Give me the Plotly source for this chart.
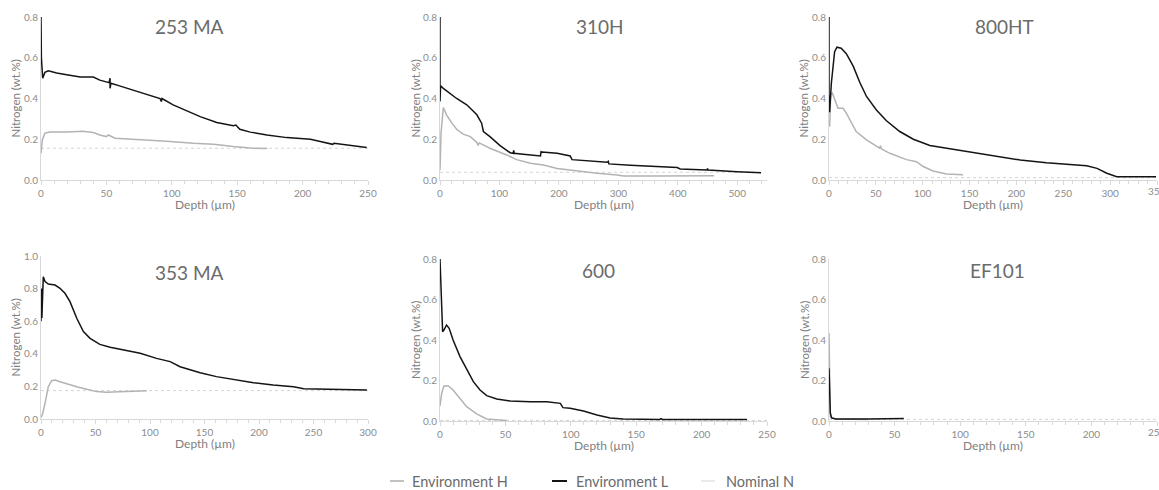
import plotly.graph_objects as go

# ---------------- data ----------------
titles = ["253 MA", "310H", "800HT", "353 MA", "600", "EF101"]

# 253 MA
ma253_L_x = [0, 0.3, 1.3, 3, 5.6, 12, 19.6, 30, 40, 45, 52, 52.8, 52.8, 53.5, 60, 70.7, 85, 91, 92, 92.5, 101, 110,
             121.7, 134.4, 147, 149, 152, 160, 172.7, 188, 206, 213.5, 223, 224, 239, 249]
ma253_L_y = [0.8, 0.6, 0.5, 0.528, 0.536, 0.525, 0.516, 0.505, 0.505, 0.49, 0.478, 0.50, 0.45, 0.475, 0.462, 0.44,
             0.41, 0.40, 0.385, 0.40, 0.369, 0.345, 0.311, 0.282, 0.266, 0.27, 0.249, 0.235, 0.221, 0.208, 0.2,
             0.189, 0.175, 0.18, 0.167, 0.16]
ma253_H_x = [0, 0.5, 1, 3, 7, 19.6, 32, 40, 45, 50, 51.5, 56.6, 70.7, 96, 116.6, 132, 147, 160, 173]
ma253_H_y = [0.131, 0.16, 0.197, 0.23, 0.236, 0.236, 0.239, 0.233, 0.221, 0.213, 0.221, 0.205, 0.2, 0.19, 0.18,
             0.175, 0.164, 0.157, 0.154]
ma253_nom = 0.156

# 310H
h310_L_x = [0, 0, 1, 5.6, 28, 45, 62, 70, 73, 84, 101, 118, 123, 124, 125, 140, 169, 170, 171, 197, 219, 222, 253,
            281, 283, 284, 320, 365, 399, 404, 449, 450, 451, 500, 540]
h310_L_y = [0.8, 0.385, 0.462, 0.45, 0.40, 0.369, 0.32, 0.279, 0.238, 0.213, 0.169, 0.134, 0.131, 0.145, 0.131,
            0.126, 0.118, 0.139, 0.137, 0.131, 0.118, 0.10, 0.093, 0.087, 0.092, 0.079, 0.072, 0.066, 0.061, 0.054,
            0.049, 0.056, 0.049, 0.041, 0.036]
h310_H_x = [0, 1.7, 5.6, 11, 20, 28, 39, 51, 62, 64, 66, 84, 112, 129, 152, 174, 197, 230, 264, 298, 309, 365, 461]
h310_H_y = [0.049, 0.23, 0.356, 0.32, 0.279, 0.249, 0.225, 0.213, 0.184, 0.17, 0.182, 0.156, 0.123, 0.10, 0.082,
            0.074, 0.057, 0.044, 0.033, 0.025, 0.02, 0.02, 0.021]
h310_nom = 0.038

# 800HT
ht800_L_x = [0, 0, 0.7, 2.5, 5, 6, 8.5, 13, 18.5, 25.7, 32.8, 40, 50.6, 61, 75.5, 90, 107.6, 125.4, 154, 179, 204,
             232, 253.7, 275, 286, 296.5, 307, 325, 349]
ht800_L_y = [0.8, 0.336, 0.336, 0.475, 0.59, 0.63, 0.652, 0.647, 0.62, 0.56, 0.48, 0.41, 0.344, 0.292, 0.238,
             0.2, 0.169, 0.156, 0.134, 0.115, 0.098, 0.085, 0.077, 0.07, 0.057, 0.033, 0.016, 0.015, 0.016]
ht800_H_x = [0.7, 1.8, 3.6, 7.8, 9.6, 15, 18.5, 29, 40, 54, 55, 56, 65, 82.7, 93.4, 100.5, 111, 125.4, 143]
ht800_H_y = [0.262, 0.418, 0.426, 0.377, 0.352, 0.352, 0.328, 0.238, 0.197, 0.156, 0.168, 0.152, 0.131, 0.10,
             0.09, 0.066, 0.044, 0.03, 0.026]
ht800_nom = 0.0115

# 353 MA
ma353_L_x = [0, 0.4, 0.8, 2.1, 3.7, 6.7, 12.9, 17.4, 22, 26.6, 32.8, 38.9, 45, 54, 63.4, 75.6, 91, 106, 118.5,
             127.6, 146, 161, 176.6, 195, 213, 231.7, 241, 256, 277.6, 299]
ma353_L_y = [0.60, 0.80, 0.62, 0.873, 0.843, 0.828, 0.822, 0.802, 0.771, 0.72, 0.618, 0.536, 0.495, 0.458, 0.44,
             0.423, 0.403, 0.372, 0.352, 0.321, 0.284, 0.26, 0.241, 0.223, 0.209, 0.198, 0.186, 0.184, 0.182, 0.178]
ma353_H_x = [0, 1.2, 3.7, 6.7, 9.8, 12.9, 17.4, 23.6, 32.8, 42, 51, 60, 78.7, 97]
ma353_H_y = [0.01, 0.025, 0.096, 0.198, 0.235, 0.239, 0.229, 0.215, 0.198, 0.182, 0.168, 0.164, 0.168, 0.174]
ma353_nom = 0.174

# 600
a600_L_x = [0, 0.8, 2, 3, 5, 7, 10, 15.3, 20.4, 25.5, 30.6, 35.7, 43.4, 53.6, 69, 81.6, 92, 93.5, 94, 99.5, 109.7,
            120, 130, 140, 166, 168, 169, 170, 234.7]
a600_L_y = [0.8, 0.614, 0.441, 0.449, 0.474, 0.458, 0.4, 0.318, 0.255, 0.194, 0.153, 0.125, 0.109, 0.099, 0.095,
            0.095, 0.087, 0.075, 0.066, 0.063, 0.049, 0.03, 0.015, 0.01, 0.008, 0.008, 0.012, 0.008, 0.008]
a600_H_x = [0, 1.3, 3, 6.4, 10, 15.3, 20.4, 28, 35.7, 51]
a600_H_y = [0.074, 0.137, 0.173, 0.173, 0.153, 0.112, 0.071, 0.035, 0.01, 0.003]
a600_nom = 0.003

# EF101
ef101_L_x = [0, 0.5, 1, 2, 5, 30, 57]
ef101_L_y = [0.26, 0.1, 0.04, 0.015, 0.01, 0.01, 0.012]
ef101_H_x = [0, 0.4, 1, 5, 30]
ef101_H_y = [0.435, 0.08, 0.02, 0.01, 0.008]
ef101_nom = 0.008

x_max = [250, 550, 350, 300, 250, 250]
nom_end = [250, 540, 350, 300, 250, 250]
x_ticks = [list(range(0, 251, 50)), list(range(0, 501, 100)), list(range(0, 351, 50)),
           list(range(0, 301, 50)), list(range(0, 251, 50)), list(range(0, 251, 50))]
x_minor = [10, 20, 10, 10, 10, 10]
y_max = [0.8, 0.8, 0.8, 1.0, 0.8, 0.8]

series = [
    (ma253_H_x, ma253_H_y, ma253_L_x, ma253_L_y, ma253_nom),
    (h310_H_x, h310_H_y, h310_L_x, h310_L_y, h310_nom),
    (ht800_H_x, ht800_H_y, ht800_L_x, ht800_L_y, ht800_nom),
    (ma353_H_x, ma353_H_y, ma353_L_x, ma353_L_y, ma353_nom),
    (a600_H_x, a600_H_y, a600_L_x, a600_L_y, a600_nom),
    (ef101_H_x, ef101_H_y, ef101_L_x, ef101_L_y, ef101_nom),
]
legend_names = ["Environment H", "Environment L", "Nominal N"]
x_title = "Depth (µm)"
y_title = "Nitrogen (wt.%)"

# ---------------- styling ----------------
W, H = 1159, 490
FONT = "Lato"
C_H = "#b3b3b3"
C_L = "#141414"
C_N = "#d4d4d4"
AX = "#d9d9d9"
TXT = "#8c8c8c"
TTL = "#808080"

# plot areas in pixels: (left, right, top, bottom)
boxes = [(41, 368, 17, 180), (440, 767, 17, 180), (829, 1157, 17, 180),
         (41, 368, 256, 419), (440, 767, 259, 421), (829, 1157, 259, 421)]
title_pos = [(189, 27), (600, 27), (1004, 27), (189, 272), (598, 270), (997, 270)]
ytitle_x = [15, 415, 803, 15, 415, 804]

fig = go.Figure()
layout = dict(width=W, height=H, margin=dict(l=0, r=0, t=0, b=0), template="none",
              paper_bgcolor="white", plot_bgcolor="white", showlegend=False,
              font=dict(family=FONT, color=TXT))
annotations = []

for i, (hx, hy, lx, ly, nom) in enumerate(series):
    n = i + 1
    xa = "x" if n == 1 else f"x{n}"
    ya = "y" if n == 1 else f"y{n}"
    fig.add_trace(go.Scatter(x=[0, nom_end[i]], y=[nom, nom], mode="lines",
                             line=dict(color=C_N, width=1, dash="dot"), name=legend_names[2],
                             xaxis=xa, yaxis=ya))
    fig.add_trace(go.Scatter(x=hx, y=hy, mode="lines", line=dict(color=C_H, width=1.5),
                             name=legend_names[0], xaxis=xa, yaxis=ya))
    fig.add_trace(go.Scatter(x=lx, y=ly, mode="lines", line=dict(color=C_L, width=1.5),
                             name=legend_names[1], xaxis=xa, yaxis=ya))

    l, r, t, b = boxes[i]
    xkey = "xaxis" if n == 1 else f"xaxis{n}"
    ykey = "yaxis" if n == 1 else f"yaxis{n}"
    layout[xkey] = dict(domain=[l / W, r / W], range=[0, x_max[i]], anchor=ya,
                        tickvals=x_ticks[i], showline=True, linecolor=AX, linewidth=1,
                        ticks="outside", ticklen=4, tickcolor=AX,
                        minor=dict(ticks="outside", dtick=x_minor[i], ticklen=3, tickcolor=AX),
                        showgrid=False, zeroline=False,
                        tickfont=dict(size=10, color=TXT, family=FONT))
    layout[ykey] = dict(domain=[1 - b / H, 1 - t / H], range=[0, y_max[i]], anchor=xa,
                        dtick=0.2, tickformat=".1f", showline=True, linecolor=AX, linewidth=1,
                        ticks="", showgrid=False, zeroline=False,
                        tickfont=dict(size=10, color=TXT, family=FONT))
    # axis titles
    annotations.append(dict(text=x_title, x=(l + r) / 2 / W, y=1 - (b + 24) / H, xref="paper", yref="paper",
                            showarrow=False, xanchor="center", yanchor="middle",
                            font=dict(size=12, color=TTL, family=FONT)))
    annotations.append(dict(text=y_title, x=ytitle_x[i] / W, y=1 - (t + b) / 2 / H, xref="paper", yref="paper",
                            showarrow=False, xanchor="center", yanchor="middle", textangle=-90,
                            font=dict(size=11.5, color=TTL, family=FONT)))
    # last tick label clipped at the right edge of the page
    if r > W - 10:
        annotations.append(dict(text=str(x_ticks[i][-1]), x=r / W, y=1 - (b + 11) / H, xref="paper",
                                yref="paper", showarrow=False, xanchor="center", yanchor="middle",
                                font=dict(size=10, color=TXT, family=FONT)))

for i, t in enumerate(titles):
    px, py = title_pos[i]
    annotations.append(dict(text=t, x=px / W, y=1 - py / H, xref="paper", yref="paper",
                            showarrow=False, xanchor="center", yanchor="middle",
                            font=dict(size=19, color="#6b6b6b", family=FONT)))

# manual legend
shapes = []
leg_items = [(390, 404, 410, C_H, 1.6), (552, 567, 574, C_L, 2.0), (701, 715, 724, C_N, 1.0)]
leg_y = 481
for (x0, x1, tx, col, wdt), name in zip(leg_items, legend_names):
    shapes.append(dict(type="line", xref="paper", yref="paper", x0=x0 / W, x1=x1 / W,
                       y0=1 - leg_y / H, y1=1 - leg_y / H, line=dict(color=col, width=wdt)))
    annotations.append(dict(text=name, x=tx / W, y=1 - leg_y / H, xref="paper", yref="paper",
                            showarrow=False, xanchor="left", yanchor="middle",
                            font=dict(size=14.5, color="#6b6b6b", family=FONT)))

layout["annotations"] = annotations
layout["shapes"] = shapes
fig.update_layout(**layout)
fig.write_html("out.html")
